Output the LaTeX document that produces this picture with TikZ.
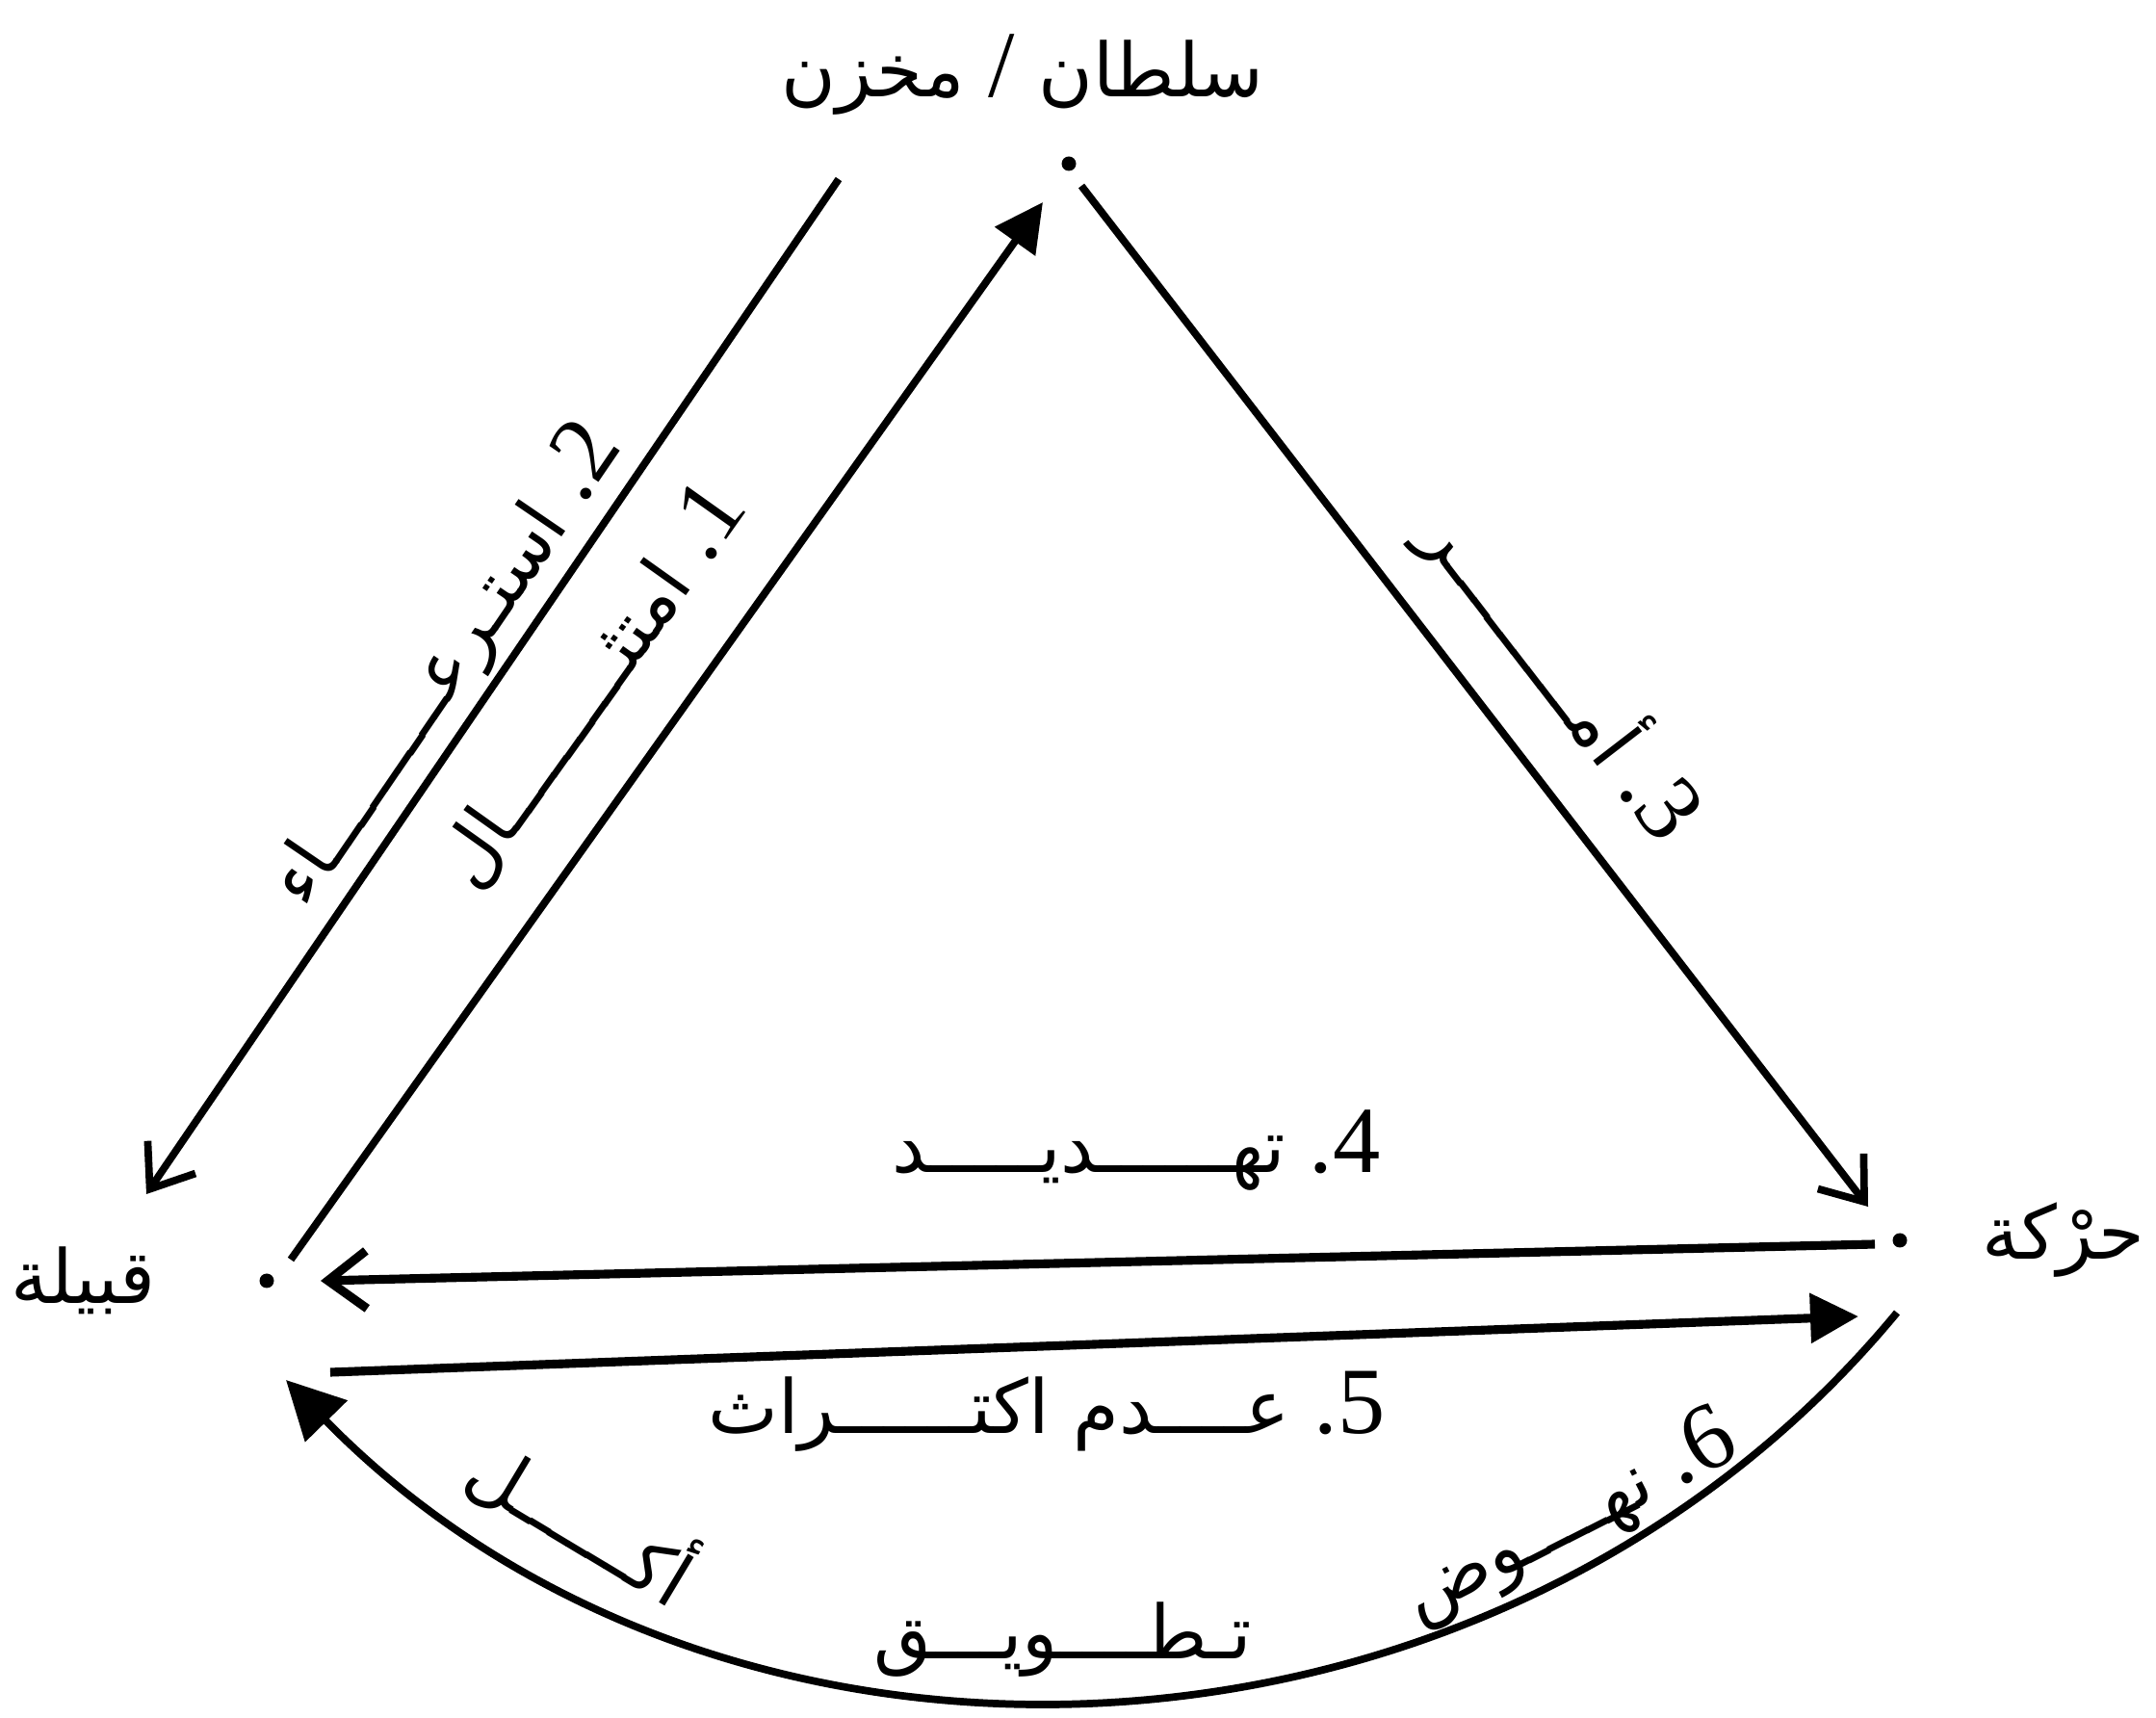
\documentclass[tikz,border=0pt]{standalone}
\usepackage{fontspec}
\setmainfont{Liberation Serif}
\newfontfamily\arabicfont[Script=Arabic]{DejaVu Sans}
\TeXXeTstate=1
\usetikzlibrary{arrows.meta,calc,positioning}

\newcommand{\arword}[1]{{\fontsize{22}{26}\selectfont\arabicfont\beginR #1\endR}}

\begin{document}
\begin{tikzpicture}[
      font=\fontsize{28}{32}\selectfont,
      line width=2.2pt,
      dot/.style={circle, fill=black, inner sep=0pt, minimum size=1.5mm},
      place/.style={inner sep=0pt},
      steplabel/.style={inner sep=0pt},
      barb/.style={-{Straight Barb[length=4mm, width=6mm]}},
      head/.style={-{Triangle[length=5mm, width=5mm]}},
      bighead/.style={-{Triangle[length=6mm, width=6mm]}},
]
\useasboundingbox (0,0) rectangle (22.39,17.83);

% the three poles
\node[dot] (sultan) at (11.10,16.13) {};
\node[dot] (qabila) at (2.77,4.53) {};
\node[dot] (haraka) at (19.73,4.95) {};

\node[place] (sultan_name) at (10.62,17.05) {\arword{سلطان {\fontsize{28}{30}\selectfont\rmfamily /} مخزن}};
\node[place, left=10mm of qabila] (qabila_name) {\arword{قبيلة}};
\node[place, right=7mm of haraka] (haraka_name) {\arword{حرْكة}};

% end points of the connectors
\coordinate (a1_start) at ($(qabila)+(0.25,0.22)$);
\coordinate (a1_end) at ($(sultan)+(-0.27,-0.40)$);
\coordinate (a2_start) at ($(sultan)+(-2.39,-0.16)$);
\coordinate (a2_end) at ($(qabila)+(-1.25,0.90)$);
\coordinate (a3_start) at ($(sultan)+(0.13,-0.23)$);
\coordinate (a3_end) at ($(haraka)+(-0.33,0.35)$);
\coordinate (a4_start) at ($(haraka)+(-0.26,-0.04)$);
\coordinate (a4_end) at ($(qabila)+(0.56,0)$);
\coordinate (a5_start) at ($(qabila)+(0.66,-0.95)$);
\coordinate (a5_end) at ($(haraka)+(-0.43,-0.79)$);
\coordinate (a6_start) at ($(haraka)+(-0.03,-0.75)$);
\coordinate (a6_end) at ($(qabila)+(0.20,-1.03)$);

\draw[head] (a1_start) -- (a1_end);
\draw[barb] (a2_start) -- (a2_end);
\draw[barb] (a3_start) -- (a3_end);
\draw[barb, line width=2.6pt] (a4_start) -- (a4_end);
\draw[head, line width=2.6pt] (a5_start) -- (a5_end);
\draw[bighead] (a6_start) to[bend left=48] (a6_end);

% step labels
\node[steplabel, rotate=54.6] (l1) at (6.14,10.71) {\arword{امتثـــــــــال}\ .1};
\node[steplabel, rotate=55.7] (l2) at (4.64,10.91) {\arword{استـرعـــــــــاء}\ .2};
\node[steplabel, rotate=-52.4] (l3) at (16.22,10.83) {\arword{أمـــــــــر}\ .3};
\node[steplabel] (l4) at (11.80,5.88) {\arword{تهــــــديـــــد}\ .4};
\node[steplabel] (l5) at (10.87,3.17) {\arword{عــــدم اكتــــــراث}\ .5};
\node[steplabel, rotate=27] (l6) at (16.30,2.06) {\arword{نهــــوض}\ .6};
\node[steplabel] (l7) at (11.04,0.80) {\arword{تـطــــويـــق}};
\node[steplabel, rotate=-31] (l8) at (6.05,2.05) {\arword{أكــــــل}};

\end{tikzpicture}
\end{document}
